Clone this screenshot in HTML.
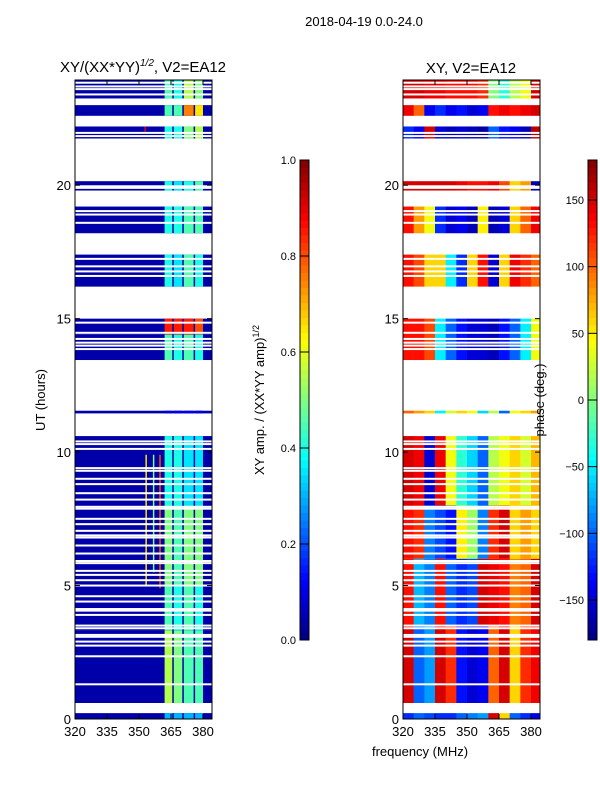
<!DOCTYPE html>
<html><head><meta charset="utf-8"><style>
body{margin:0;background:#fff;font-family:"Liberation Sans","DejaVu Sans",sans-serif}
svg{display:block}
</style></head><body>
<svg id="fig" width="600" height="800" xmlns="http://www.w3.org/2000/svg" font-family="Liberation Sans, DejaVu Sans, sans-serif">
<text x="364" y="26" font-size="13" text-anchor="middle">2018-04-19 0.0-24.0</text>
<text x="143" y="72" font-size="15" text-anchor="middle">XY/(XX*YY)<tspan font-size="10" font-style="italic" dy="-6">1/2</tspan><tspan dy="6">, V2=EA12</tspan></text>
<text x="471" y="73" font-size="15" text-anchor="middle">XY, V2=EA12</text>
<text transform="translate(45,400) rotate(-90)" font-size="13" text-anchor="middle">UT (hours)</text>
<text x="420" y="756" font-size="13" text-anchor="middle">frequency (MHz)</text>
<text transform="translate(264,400) rotate(-90)" font-size="13" text-anchor="middle">XY amp. / (XX*YY amp)<tspan font-size="9" dy="-5">1/2</tspan></text>
<g id="left"></g>
<g id="right"></g>
<g id="axes"></g>
<text transform="translate(544,400) rotate(-90)" font-size="13" text-anchor="middle">phase (deg.)</text>
</svg>
<script>
// ---- data ----
const timeBlocks = [[23.25,23.93],[22.6,23.0],[21.75,22.2],[19.8,20.15],[18.2,19.2],[16.2,17.4],[14.4,15.0],[13.45,14.4],[11.45,11.55],[8.0,10.6],[5.0,8.0],[3.3,5.0],[0.6,3.3],[0.0,0.22]];
const ampBandEdges = [[362,365.6],[366.3,370.3],[371,375.6],[376.3,380]];
const ampBase = 0.04;
const ampValues = [[0.45,0.4,0.55,0.5],[0.45,0.45,0.75,0.65],[0.4,0.4,0.5,0.55],[0.4,0.35,0.4,0.45],[0.4,0.4,0.45,0.45],[0.4,0.35,0.45,0.4],[0.85,0.85,0.85,0.8],[0.45,0.4,0.45,0.4],[0.1,0.1,0.1,0.1],[0.4,0.4,0.35,0.35],[0.5,0.45,0.5,0.5],[0.45,0.4,0.45,0.4],[0.55,0.5,0.45,0.45],[0.3,0.3,0.3,0.3]];
const ampSpikes = [[353,5.0,9.9,0.65],[356.5,5.5,9.9,0.5],[359.5,4.9,9.9,0.8],[352.5,22.0,22.2,0.9]];
const phaseFreqEdges = [320,325,330,335,340,345,350,355,360,365,370,375,380,384];
const phaseTimeBlocks = [[23.25,23.93],[22.6,23.0],[21.75,22.2],[19.8,20.15],[18.2,19.2],[16.2,17.4],[13.45,15.0],[11.45,11.55],[8.0,10.6],[6.0,8.0],[3.5,6.0],[0.6,3.5],[0.0,0.22]];
const phaseValues = [
[150,150,140,140,130,130,130,120,0,-30,20,40,150],
[140,100,-140,-120,-140,-130,-150,-140,130,140,130,140,150],
[-120,-140,150,-150,-160,-150,-160,-170,-100,-130,-140,-160,160],
[150,150,150,150,150,140,130,130,140,110,60,80,-160],
[130,80,40,-120,-150,-140,-160,50,-160,-150,60,100,140],
[130,110,60,60,-50,-120,60,130,-150,60,140,120,100],
[130,130,110,-50,-100,-130,-150,-150,-160,-130,-100,-50,40],
[100,80,60,-50,30,60,40,-60,20,-100,40,60,80],
[150,140,-150,140,40,-30,-60,-100,20,40,60,30,70],
[130,120,-90,-110,-130,50,10,-90,120,150,60,80,60],
[130,-70,-90,130,-100,-120,-110,150,140,130,90,100,150],
[150,-100,-80,150,120,-130,-150,-140,100,150,60,120,140],
[-120,-100,-110,-120,-120,-100,-90,-80,150,60,-100,-120,-140]];
const flagLines = [23.84,23.7,23.6,23.4,21.96,21.84,19.96,19.9,19.03,18.9,18.59,17.24,16.96,16.77,16.6,14.85,14.47,14.24,14.1,13.99,13.86,10.4,10.3,10.12,9.4,9.3,9.0,8.8,8.46,8.22,7.95,7.88,7.5,7.3,7.05,6.88,6.8,6.5,6.2,5.92,5.84,5.55,5.4,5.2,5.0,4.6,4.4,4.12,4.06,3.9,3.5,3.4,3.15,3.08,2.9,2.75,2.35,1.3];
const xTicks = [320,335,350,365,380];
const yTicks = [0,5,10,15,20];
const ampTicks = [0.0,0.2,0.4,0.6,0.8,1.0];
const phaseTicks = [-150,-100,-50,0,50,100,150];
// ---- scales ----
const NS="http://www.w3.org/2000/svg";
const Y0=719, PXH=26.69;
const yS=h=>Y0-h*PXH;
const xL=f=>75+(f-320)*32/15;
const xR=f=>403+(f-320)*32/15;
function jet(v){v=Math.max(0,Math.min(1,v));
 const r=Math.max(0,Math.min(1,1.5-Math.abs(4*v-3))),g=Math.max(0,Math.min(1,1.5-Math.abs(4*v-2))),b=Math.max(0,Math.min(1,1.5-Math.abs(4*v-1)));
 return `rgb(${Math.round(r*255)},${Math.round(g*255)},${Math.round(b*255)})`;}
function mk(tag,attrs,parent){const e=document.createElementNS(NS,tag);for(const k in attrs)e.setAttribute(k,attrs[k]);parent.appendChild(e);return e;}
const L=document.getElementById('left'),R=document.getElementById('right'),A=document.getElementById('axes');
// left heatmap
timeBlocks.forEach((tb,i)=>{
 const r=mk('rect',{x:xL(320),y:yS(tb[1]),width:xL(384)-xL(320),height:yS(tb[0])-yS(tb[1]),fill:jet(ampBase)},L);
 
 
 ampBandEdges.forEach((be,j)=>{
  const c=mk('rect',{x:xL(be[0]),y:yS(tb[1]),width:xL(be[1])-xL(be[0]),height:yS(tb[0])-yS(tb[1]),fill:jet(ampValues[i][j])},L);
  
  
 });
});
ampSpikes.forEach(s=>{
 const c=mk('rect',{x:xL(s[0]),y:yS(s[2]),width:1.5,height:yS(s[1])-yS(s[2]),fill:jet(s[3])},L);
 
 
});
// right heatmap
phaseTimeBlocks.forEach((tb,i)=>{
 for(let j=0;j<phaseFreqEdges.length-1;j++){
  const c=mk('rect',{x:xR(phaseFreqEdges[j]),y:yS(tb[1]),width:xR(phaseFreqEdges[j+1])-xR(phaseFreqEdges[j])+0.3,height:yS(tb[0])-yS(tb[1]),fill:jet((phaseValues[i][j]+180)/360)},R);
  
  
 }
});
// flag lines
flagLines.forEach(h=>{
 [[75,212],[403,540]].forEach(p=>{
  const l=mk('rect',{x:p[0],y:yS(h)-1,width:p[1]-p[0],height:2,fill:'#fff'},A);
  
  
 });
});
// axes frames & ticks
[[75,212,'left'],[403,540,'right']].forEach(p=>{
 const f=mk('rect',{x:p[0],y:80,width:p[1]-p[0],height:639,fill:'none',stroke:'#000','stroke-width':1},A);
 
 
 const xs=p[2]=='left'?xL:xR;
 xTicks.forEach(t=>{
  mk('line',{x1:xs(t),x2:xs(t),y1:719,y2:714,stroke:'#000'},A);
  mk('line',{x1:xs(t),x2:xs(t),y1:80,y2:85,stroke:'#000'},A);
  const tx=mk('text',{x:xs(t),y:736,'font-size':13,'text-anchor':'middle'},A);tx.textContent=t;
  
  
 });
 yTicks.forEach(t=>{
  mk('line',{x1:p[0],x2:p[0]+5,y1:yS(t),y2:yS(t),stroke:'#000'},A);
  mk('line',{x1:p[1],x2:p[1]-5,y1:yS(t),y2:yS(t),stroke:'#000'},A);
  const tx=mk('text',{x:p[0]-4,y:yS(t)+5,'font-size':13,'text-anchor':'end'},A);tx.textContent=t;
  
  
 });
});
// colorbars
function colorbar(x,ticks,lo,hi,name){
 const g=mk('g',{},A);
 
 
 const n=64;
 for(let i=0;i<n;i++){mk('rect',{x:x,y:160+480*(n-1-i)/n,width:9,height:480/n+0.5,fill:jet((i+0.5)/n)},g);}
 mk('rect',{x:x,y:160,width:9,height:480,fill:'none',stroke:'#000','stroke-width':1},g);
 ticks.forEach(t=>{
  const y=640-480*(t-lo)/(hi-lo);
  mk('line',{x1:x,x2:x+9,y1:y,y2:y,stroke:'#000'},g);
  const tx=mk('text',{x:x-4,y:y+4,'font-size':11,'text-anchor':'end'},g);
  tx.textContent=(name=='amp-colorbar')?t.toFixed(1):String(t).replace('-','\u2212');
  
  
 });
}
colorbar(300,ampTicks,0,1,'amp-colorbar');
colorbar(588,phaseTicks,-180,180,'phase-colorbar');
</script>
</body></html>
